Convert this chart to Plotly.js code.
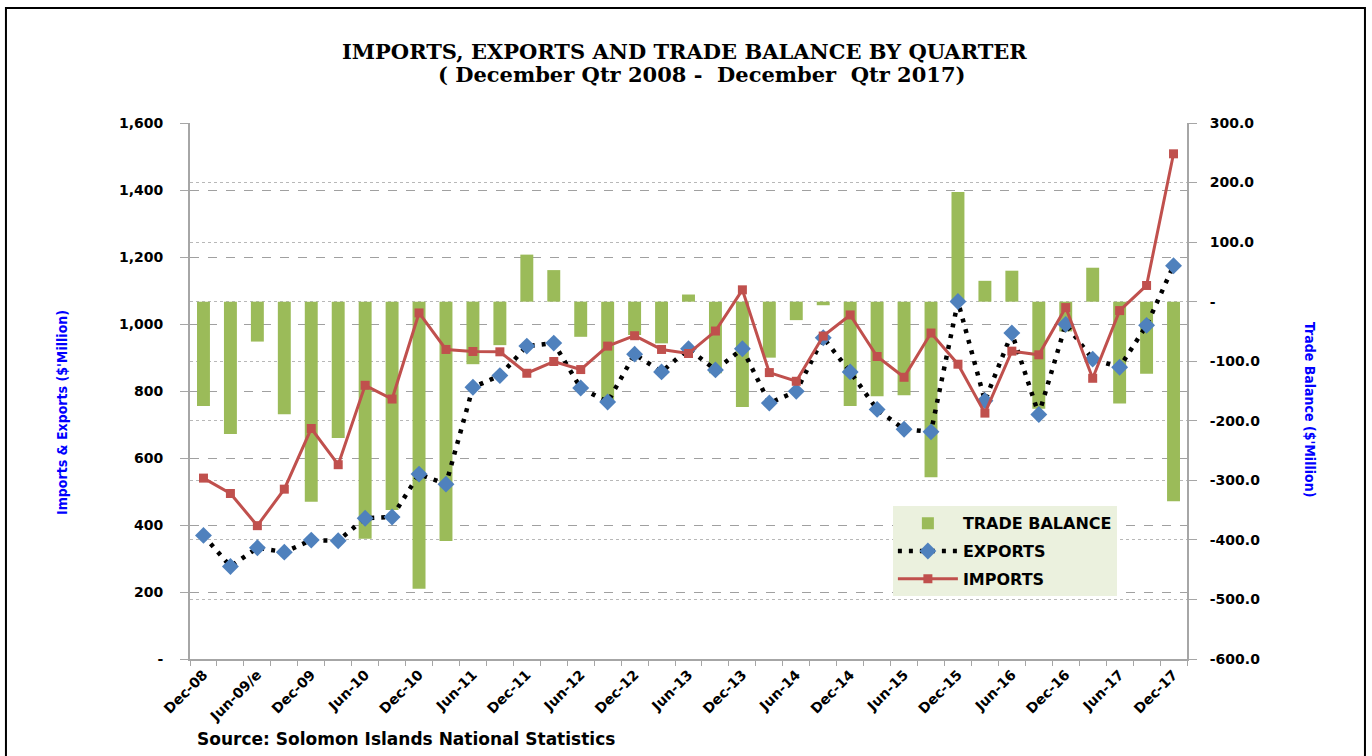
<!DOCTYPE html>
<html>
<head>
<meta charset="utf-8">
<script src="https://cdn.plot.ly/plotly-3.0.1.min.js"></script>
<style>
  html, body { margin: 0; padding: 0; background: #fff; }
  #chart { width: 1372px; height: 756px; }
</style>
</head>
<body>
<div id="chart"></div>
<script>
// Quarterly trade, Solomon Islands, Dec 2008 - Dec 2017 ($ million)
const quarters = [
  'Dec-08', 'Mar-09', 'Jun-09/e', 'Sep-09', 'Dec-09', 'Mar-10', 'Jun-10', 'Sep-10', 'Dec-10',
  'Mar-11', 'Jun-11', 'Sep-11', 'Dec-11', 'Mar-12', 'Jun-12', 'Sep-12', 'Dec-12',
  'Mar-13', 'Jun-13', 'Sep-13', 'Dec-13', 'Mar-14', 'Jun-14', 'Sep-14', 'Dec-14',
  'Mar-15', 'Jun-15', 'Sep-15', 'Dec-15', 'Mar-16', 'Jun-16', 'Sep-16', 'Dec-16',
  'Mar-17', 'Jun-17', 'Sep-17', 'Dec-17',
];

const imports = [
  540, 494, 398, 507, 688, 580, 817, 776, 1033,
  924, 918, 917, 853, 888, 864, 934, 965,
  924, 912, 979, 1102, 855, 829, 964, 1027,
  903, 841, 973, 880, 734, 919, 908, 1049,
  838, 1040, 1115, 1508,
];

const exports_ = [
  369, 276, 332, 319, 355, 353, 420, 424, 552,
  522, 811, 846, 934, 943, 809, 767, 910,
  857, 926, 863, 926, 764, 799, 959, 857,
  745, 686, 678, 1067, 771, 973, 730, 999,
  895, 871, 996, 1174,
];

const tradeBalance = [
  -175, -222, -67, -189, -336, -229, -398, -350, -482,
  -402, -105, -73, 79, 53, -59, -165, -56,
  -70, 12, -120, -177, -94, -31, -6, -175,
  -159, -157, -295, 184, 35, 52, -180, -50,
  57, -171, -121, -335,
];

const leftTicks = [0, 200, 400, 600, 800, 1000, 1200, 1400, 1600];
const leftTickText = ['-', '200', '400', '600', '800', '1,000', '1,200', '1,400', '1,600'];
const rightTicks = [-600, -500, -400, -300, -200, -100, 0, 100, 200, 300];
const rightTickText = ['-600.0', '-500.0', '-400.0', '-300.0', '-200.0', '-100.0', '-', '100.0', '200.0', '300.0'];

const idx = quarters.map((_, i) => i);
const labelIdx = idx.filter((i) => i % 2 === 0);

const SANS = 'Verdana, "DejaVu Sans", sans-serif';
const TICK_FONT = { family: SANS, size: 14, color: '#000', weight: 'bold' };
const AXIS_GREY = '#a6a6a6';
const AXIS_TITLE_FONT = { family: '"DejaVu Sans Condensed", "Liberation Sans Narrow", "Arial Narrow", sans-serif', size: 14, color: '#0000ff', weight: 'bold' };
const TITLE_FONT = { family: '"DejaVu Serif", Cambria, serif', size: 21, color: '#000', weight: 'bold' };

const traces = [
  {
    type: 'bar',
    name: 'TRADE BALANCE',
    legendgroup: 'tb',
    x: idx,
    y: tradeBalance,
    yaxis: 'y',
    marker: { color: '#9bbb59' },
  },
  {
    type: 'scatter',
    mode: 'lines+markers',
    name: 'EXPORTS',
    legendgroup: 'ex',
    x: idx,
    y: exports_,
    yaxis: 'y2',
    line: { color: '#000', width: 4.5, dash: '4px,7px' },
    marker: { symbol: 'diamond', size: 13, color: '#4f81bd' },
  },
  {
    type: 'scatter',
    mode: 'lines+markers',
    name: 'IMPORTS',
    legendgroup: 'im',
    x: idx,
    y: imports,
    yaxis: 'y2',
    line: { color: '#c0504d', width: 3 },
    marker: { symbol: 'square', size: 9, color: '#c0504d' },
  },
];

const layout = {
  width: 1372,
  height: 756,
  margin: { l: 190, r: 185, t: 123, b: 97 },
  paper_bgcolor: '#fff',
  plot_bgcolor: 'rgba(0,0,0,0)',
  showlegend: true,
  bargap: 0.52,
  xaxis: {
    range: [-0.5, 36.5],
    tickmode: 'array',
    tickvals: labelIdx,
    ticktext: labelIdx.map((i) => quarters[i]),
    tickangle: -45,
    ticks: '',
    tickfont: TICK_FONT,
    showgrid: false,
    zeroline: false,
    showline: true,
    linecolor: AXIS_GREY,
    linewidth: 2,
    minor: { tick0: -0.5, dtick: 1, ticks: 'outside', ticklen: 5, tickcolor: AXIS_GREY, tickwidth: 1, showgrid: false },
  },
  yaxis: {
    side: 'right',
    range: [-600, 300],
    tickmode: 'array',
    tickvals: rightTicks,
    ticktext: rightTickText,
    tickfont: TICK_FONT,
    ticks: 'outside',
    ticklen: 8,
    tickcolor: AXIS_GREY,
    ticklabelstandoff: 10,
    showline: true,
    linecolor: AXIS_GREY,
    linewidth: 2,
    showgrid: true,
    gridcolor: '#b8b8b8',
    griddash: 'dot',
    gridwidth: 1,
    zeroline: false,
  },
  yaxis2: {
    side: 'left',
    overlaying: 'y',
    range: [0, 1600],
    tickmode: 'array',
    tickvals: leftTicks,
    ticktext: leftTickText,
    tickfont: TICK_FONT,
    ticks: 'outside',
    ticklen: 8,
    tickcolor: AXIS_GREY,
    ticklabelstandoff: 14,
    showline: true,
    linecolor: AXIS_GREY,
    linewidth: 2,
    showgrid: true,
    gridcolor: '#a0a0a0',
    griddash: 'dash',
    gridwidth: 1,
    zeroline: false,
  },
  legend: {
    x: 0.705,
    y: 0.285,
    xanchor: 'left',
    yanchor: 'top',
    bgcolor: '#ebf1de',
    borderwidth: 0,
    traceorder: 'grouped',
    tracegroupgap: 4,
    font: { family: SANS, size: 16, color: '#000', weight: 'bold' },
    itemwidth: 60,
  },
  annotations: [
    {
      text: 'IMPORTS, EXPORTS AND TRADE BALANCE BY QUARTER',
      xref: 'paper', yref: 'paper', x: 0.4955, y: 1.1325,
      xanchor: 'center', yanchor: 'middle', showarrow: false,
      font: TITLE_FONT,
    },
    {
      text: '( December Qtr 2008 -\u00a0 December\u00a0 Qtr 2017)',
      xref: 'paper', yref: 'paper', x: 0.5135, y: 1.0914,
      xanchor: 'center', yanchor: 'middle', showarrow: false,
      font: TITLE_FONT,
    },
    {
      text: "Imports & Exports ($'Million)",
      xref: 'paper', yref: 'paper', x: -0.1284, y: 0.4608,
      xanchor: 'center', yanchor: 'middle', textangle: -90, showarrow: false,
      font: AXIS_TITLE_FONT,
    },
    {
      text: "Trade Balance ($'Million)",
      xref: 'paper', yref: 'paper', x: 1.1234, y: 0.4646,
      xanchor: 'center', yanchor: 'middle', textangle: 90, showarrow: false,
      font: AXIS_TITLE_FONT,
    },
    {
      text: 'Source: Solomon Islands National Statistics',
      xref: 'paper', yref: 'paper', x: 0.005, y: -0.149,
      xanchor: 'left', yanchor: 'middle', showarrow: false,
      font: { family: SANS, size: 17, color: '#000', weight: 'bold' },
    },
  ],
  shapes: [
    {
      type: 'rect', xref: 'paper', yref: 'paper',
      x0: -0.1846, x1: 1.1785, y0: -0.2, y1: 1.2146,
      line: { color: '#000', width: 2 },
      fillcolor: 'rgba(0,0,0,0)',
      layer: 'above',
    },
  ],
};

Plotly.newPlot('chart', traces, layout, { displayModeBar: false, staticPlot: true });
</script>
</body>
</html>
